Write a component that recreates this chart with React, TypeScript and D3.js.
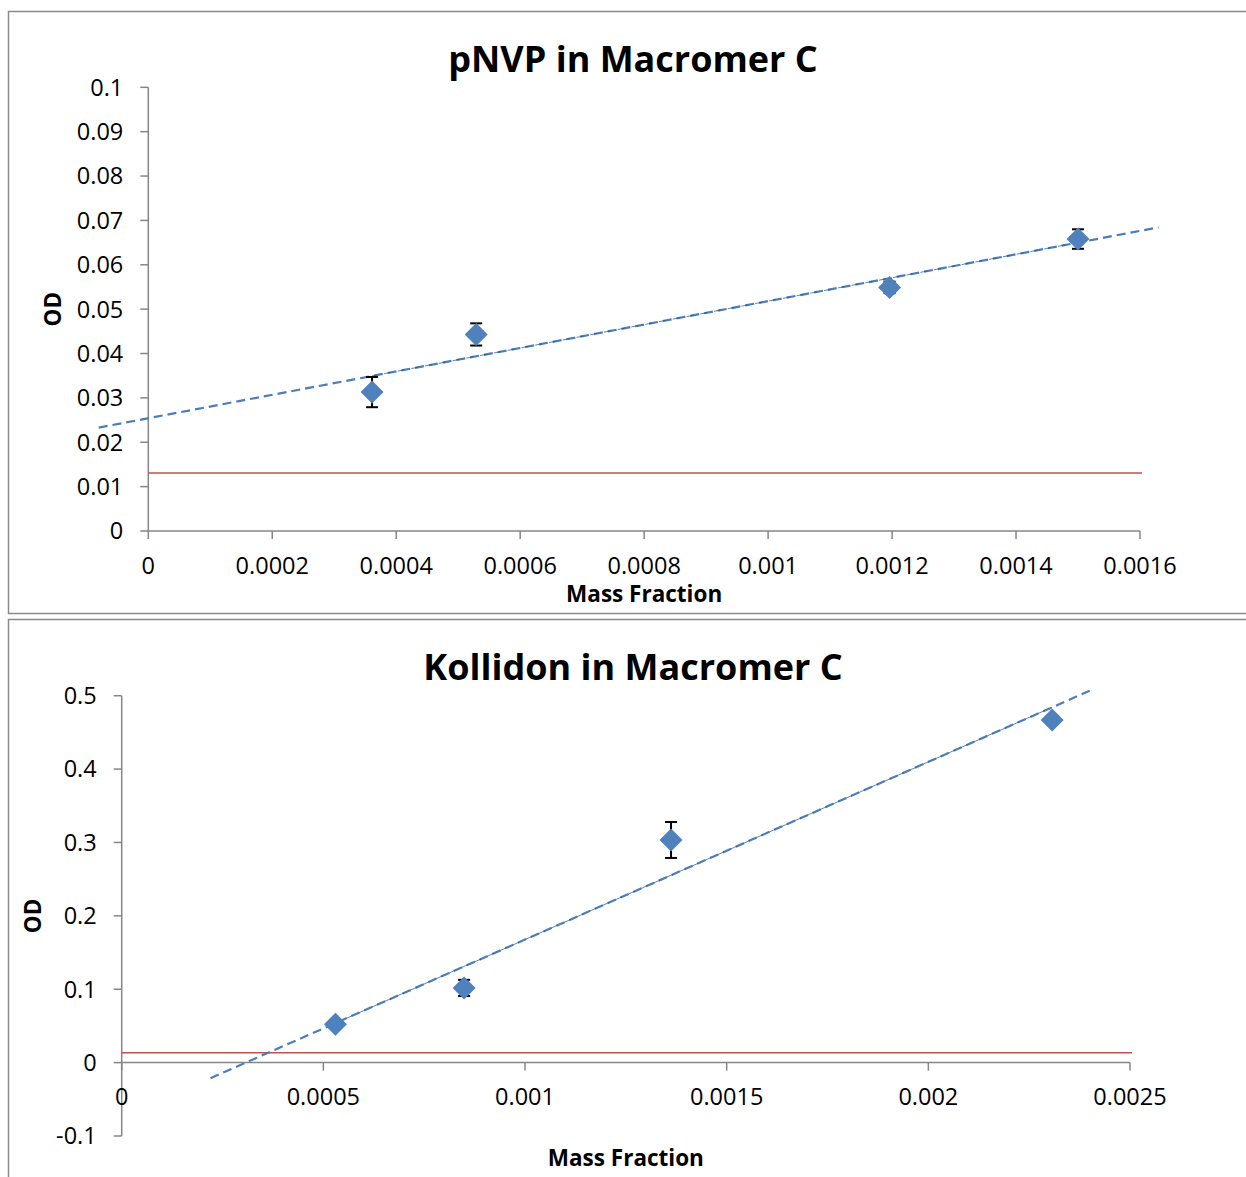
import React from "react";
import * as d3 from "d3";

// ---------- Data ----------
const pnvpMass = [0.000361, 0.000529, 0.001196, 0.0015];
const pnvpOD = [0.0313, 0.0443, 0.0549, 0.0658];
const pnvpErr = [0.0034, 0.0025, 0.0013, 0.0022];
const pnvpBlank = 0.0131;
const pnvpTrendRange = [-0.00008, 0.00163];
const pnvpXTicks = [0, 0.0002, 0.0004, 0.0006, 0.0008, 0.001, 0.0012, 0.0014, 0.0016];
const pnvpYTicks = [0, 0.01, 0.02, 0.03, 0.04, 0.05, 0.06, 0.07, 0.08, 0.09, 0.1];

const kolMass = [0.00053, 0.000849, 0.001362, 0.002307];
const kolOD = [0.0523, 0.1018, 0.3034, 0.4669];
const kolErr = [0.005, 0.011, 0.0245, 0.006];
const kolBlank = 0.0136;
const kolTrendRange = [0.00022, 0.0024];
const kolXTicks = [0, 0.0005, 0.001, 0.0015, 0.002, 0.0025];
const kolYTicks = [-0.1, 0, 0.1, 0.2, 0.3, 0.4, 0.5];

const FONT = "'Open Sans', 'Noto Sans', sans-serif";
const AXIS = "#868686";
const BLUE = "#4f81bd";
const RED = "#c0504d";

type ChartProps = {
  title: string;
  xs: number[];
  ys: number[];
  errs: number[];
  blank: number;
  trend: number[];
  xTicks: number[];
  yTicks: number[];
  px: [number, number];
  py: [number, number];
  titleY: number;
  xLabelY: number;
  odX: number;
};

function linReg(xs: number[], ys: number[]) {
  const mx = d3.mean(xs)!;
  const my = d3.mean(ys)!;
  let sxy = 0,
    sxx = 0;
  xs.forEach((x, i) => {
    sxy += (x - mx) * (ys[i] - my);
    sxx += (x - mx) * (x - mx);
  });
  const m = sxy / sxx;
  return { m, b: my - m * mx };
}

const DIAMOND = "M0,-11.5L11.5,0L0,11.5L-11.5,0Z";

function Chart(p: ChartProps) {
  const xDom = d3.extent(p.xTicks) as [number, number];
  const yDom = d3.extent(p.yTicks) as [number, number];
  const x = d3.scaleLinear().domain(xDom).range(p.px);
  const y = d3.scaleLinear().domain(yDom).range([p.py[1], p.py[0]]);
  const axisY = y(Math.max(0, yDom[0]));
  const axisX = x(0);
  const { m, b } = linReg(p.xs, p.ys);
  const line = d3
    .line<number>()
    .x((v) => x(v))
    .y((v) => y(m * v + b));
  const dataRange = d3.extent(p.xs) as [number, number];
  const plotCx = (p.px[0] + p.px[1]) / 2;
  const plotCy = (p.py[0] + p.py[1]) / 2;
  return (
    <g>
      <text x={633} y={p.titleY} textAnchor="middle" fontFamily={FONT} fontWeight="bold" fontSize={36} fill="#000">
        {p.title}
      </text>
      {/* y axis */}
      <line x1={axisX} x2={axisX} y1={p.py[0]} y2={p.py[1]} stroke={AXIS} strokeWidth={1.5} />
      {p.yTicks.map((t) => (
        <g key={"y" + t}>
          <line x1={axisX - 8} x2={axisX} y1={y(t)} y2={y(t)} stroke={AXIS} strokeWidth={1.5} />
          <text x={axisX - 25} y={y(t) + 8.4} textAnchor="end" fontFamily={FONT} fontSize={23.5} fill="#000">
            {String(t)}
          </text>
        </g>
      ))}
      {/* x axis */}
      <line x1={p.px[0]} x2={p.px[1]} y1={axisY} y2={axisY} stroke={AXIS} strokeWidth={1.5} />
      {p.xTicks.map((t) => (
        <g key={"x" + t}>
          <line x1={x(t)} x2={x(t)} y1={axisY} y2={axisY + 8} stroke={AXIS} strokeWidth={1.5} />
          <text x={x(t)} y={axisY + 42.5} textAnchor="middle" fontFamily={FONT} fontSize={23.5} fill="#000">
            {String(t)}
          </text>
        </g>
      ))}
      <text x={plotCx} y={p.xLabelY} textAnchor="middle" fontFamily={FONT} fontWeight="bold" fontSize={22.5} fill="#000">
        Mass Fraction
      </text>
      <text
        transform={`translate(${p.odX + 8},${plotCy}) rotate(-90)`}
        textAnchor="middle"
        fontFamily={FONT}
        fontWeight="bold"
        fontSize={22.5}
        fill="#000"
      >
        OD
      </text>
      {/* blank line */}
      <line x1={x(xDom[0])} x2={x(xDom[1]) + 2} y1={y(p.blank)} y2={y(p.blank)} stroke={RED} strokeWidth={1.5} />
      {/* trendline */}
      <path d={line(p.trend)!} fill="none" stroke="#4a7ebb" strokeWidth={2.2} strokeDasharray="9,5" />
      <path
        d={line(dataRange)!}
        fill="none"
        stroke="#25507f"
        strokeWidth={1}
        strokeDasharray="7,7"
        strokeDashoffset={2}
        opacity={0.7}
      />
      {/* error bars */}
      {p.xs.map((v, i) => (
        <g key={"e" + i} stroke="#000" strokeWidth={2}>
          <line x1={x(v)} x2={x(v)} y1={y(p.ys[i] - p.errs[i])} y2={y(p.ys[i] + p.errs[i])} />
          <line x1={x(v) - 6} x2={x(v) + 6} y1={y(p.ys[i] - p.errs[i])} y2={y(p.ys[i] - p.errs[i])} />
          <line x1={x(v) - 6} x2={x(v) + 6} y1={y(p.ys[i] + p.errs[i])} y2={y(p.ys[i] + p.errs[i])} />
        </g>
      ))}
      {/* markers */}
      {p.xs.map((v, i) => (
        <path key={"m" + i} d={DIAMOND} transform={`translate(${x(v)},${y(p.ys[i])})`} fill={BLUE} />
      ))}
    </g>
  );
}

export default function App() {
  return (
    <svg
      width={1246}
      height={1177}
      style={{ position: "absolute", left: 0, top: 0, background: "#fff" }}
    >
      <rect x={0} y={0} width={1246} height={1177} fill="#fff" />
      <rect x={8.5} y={11.5} width={1260} height={602} fill="none" stroke="#8a8a8a" strokeWidth={1.5} />
      <rect x={8.5} y={619.5} width={1260} height={620} fill="none" stroke="#8a8a8a" strokeWidth={1.5} />
      <Chart
        title="pNVP in Macromer C"
        xs={pnvpMass}
        ys={pnvpOD}
        errs={pnvpErr}
        blank={pnvpBlank}
        trend={pnvpTrendRange}
        xTicks={pnvpXTicks}
        yTicks={pnvpYTicks}
        px={[148.3, 1140]}
        py={[87.3, 531]}
        titleY={72}
        xLabelY={602}
        odX={53}
      />
      <Chart
        title="Kollidon in Macromer C"
        xs={kolMass}
        ys={kolOD}
        errs={kolErr}
        blank={kolBlank}
        trend={kolTrendRange}
        xTicks={kolXTicks}
        yTicks={kolYTicks}
        px={[121.7, 1130]}
        py={[695.7, 1136]}
        titleY={680}
        xLabelY={1166}
        odX={33}
      />
    </svg>
  );
}
